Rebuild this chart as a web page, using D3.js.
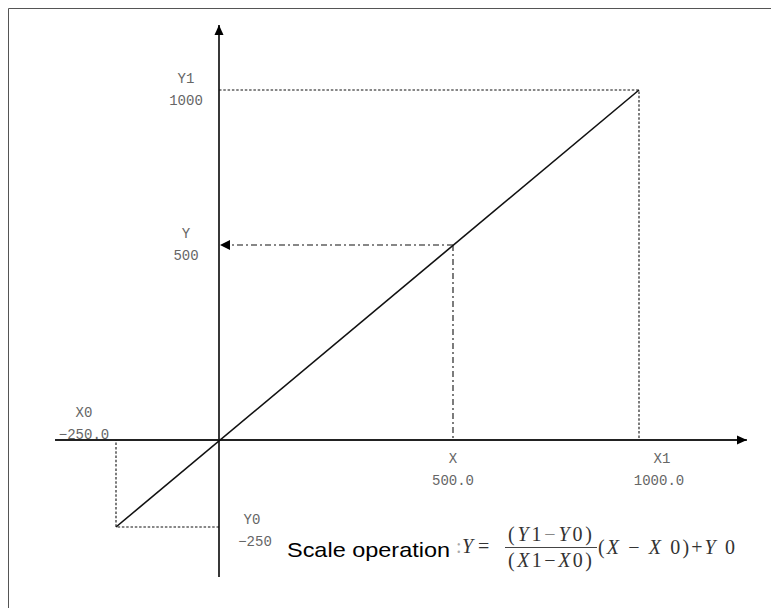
<!DOCTYPE html>
<html>
<head>
<meta charset="utf-8">
<script src="https://cdn.jsdelivr.net/npm/d3@7"></script>
<style>
  html, body { margin: 0; padding: 0; background: #fff; }
  svg { display: block; }
</style>
</head>
<body>
<svg id="chart" width="771" height="608"></svg>
<script>
// ---- data ----
const breakpoints = [-250, 0, 500, 1000];           // schematic (non-uniform) scale breakpoints
const xAxisExtent = [-398, 1290];
const yAxisExtent = [-394, 1210];
const transferLine = [[-250, -250], [1000, 1000]];   // Y = f(X)
const rangeMarks = [{x: -250, y: -250}, {x: 1000, y: 1000}];
const sampleMark = {x: 500, y: 500};
const xTickNames = ["X0", "X", "X1"];
const xTickValues = [-250, 500, 1000];
const xTickLabels = ["\u2212250.0", "500.0", "1000.0"];
const yTickNames = ["Y0", "Y", "Y1"];
const yTickValues = [-250, 500, 1000];
const yTickLabels = ["\u2212250", "500", "1000"];
const captionText = "Scale operation";

// ---- scales ----
const x = d3.scaleLinear().domain(breakpoints).range([116, 219, 453, 639]);
const y = d3.scaleLinear().domain(breakpoints).range([527, 440, 245, 90]);

const svg = d3.select("#chart");

// frame
svg.append("path")
  .attr("d", "M8.5,620 V8.5 H790")
  .attr("fill", "none").attr("stroke", "#555").attr("stroke-width", 1);

// arrowheads
const defs = svg.append("defs");
defs.append("marker").attr("id", "arr").attr("viewBox", "0 0 10 10")
  .attr("refX", 10).attr("refY", 5).attr("markerWidth", 10).attr("markerHeight", 10)
  .attr("markerUnits", "userSpaceOnUse").attr("orient", "auto")
  .append("path").attr("d", "M0,0.5 L10,5 L0,9.5 Z").attr("fill", "#000");

const axisCol = "#222";
// x axis
svg.append("line")
  .attr("x1", x(xAxisExtent[0])).attr("x2", x(xAxisExtent[1]))
  .attr("y1", y(0)).attr("y2", y(0))
  .attr("stroke", axisCol).attr("stroke-width", 1.8).attr("marker-end", "url(#arr)");
// y axis
svg.append("line")
  .attr("x1", x(0)).attr("x2", x(0))
  .attr("y1", y(yAxisExtent[0])).attr("y2", y(yAxisExtent[1]))
  .attr("stroke", axisCol).attr("stroke-width", 1.8).attr("marker-end", "url(#arr)");

// dotted guide lines to range corners
const dotted = "2.5,1.8";
rangeMarks.forEach(m => {
  svg.append("path")
    .attr("d", `M${x(0)},${y(m.y)} H${x(m.x)} V${y(0)}`)
    .attr("fill", "none").attr("stroke", "#111").attr("stroke-width", 1.1)
    .attr("stroke-dasharray", dotted);
});

// dash-dot guides for sample point
const dashDot = "6,3,2,3";
svg.append("line")
  .attr("x1", x(sampleMark.x)).attr("x2", x(sampleMark.x))
  .attr("y1", y(sampleMark.y)).attr("y2", y(0))
  .attr("stroke", "#111").attr("stroke-width", 1.1).attr("stroke-dasharray", dashDot);
svg.append("line")
  .attr("x1", x(sampleMark.x)).attr("x2", x(0) + 1)
  .attr("y1", y(sampleMark.y)).attr("y2", y(sampleMark.y))
  .attr("stroke", "#111").attr("stroke-width", 1.1).attr("stroke-dasharray", dashDot);
// left-pointing arrowhead at y axis
svg.append("path")
  .attr("d", `M${x(0) + 1},${y(sampleMark.y)} l10,-5 v10 Z`)
  .attr("fill", "#000");

// transfer line
svg.append("path")
  .datum(transferLine)
  .attr("d", d3.line().x(d => x(d[0])).y(d => y(d[1])))
  .attr("fill", "none").attr("stroke", "#111").attr("stroke-width", 1.6);

// labels
const labFont = "'Liberation Mono', 'DejaVu Sans Mono', monospace";
const labCol = "#666";
const labSize = 14;
function label2(cx, cy, a, b, dx2) {
  svg.append("text").attr("x", cx).attr("y", cy).attr("text-anchor", "middle")
    .attr("font-family", labFont).attr("font-size", labSize).attr("fill", labCol).text(a);
  svg.append("text").attr("x", cx + (dx2 || 0)).attr("y", cy + 22).attr("text-anchor", "middle")
    .attr("font-family", labFont).attr("font-size", labSize).attr("fill", labCol).text(b);
}
// x ticks
xTickValues.forEach((v, i) => {
  if (v < 0) {
    label2(x(v) - 32, y(0) - 23, xTickNames[i], xTickLabels[i]);
  } else if (i === 1) {
    label2(x(v), y(0) + 23, xTickNames[i], xTickLabels[i]);
  } else {
    label2(x(v) + 23, y(0) + 23, xTickNames[i], xTickLabels[i], -3);
  }
});
// y ticks
yTickValues.forEach((v, i) => {
  if (v < 0) {
    label2(x(0) + 33, y(v) - 3, yTickNames[i], yTickLabels[i], 3);
  } else {
    label2(x(0) - 33, y(v) - 7, yTickNames[i], yTickLabels[i]);
  }
});

// caption
svg.append("text").attr("x", 287).attr("y", 557)
  .attr("font-family", "'Liberation Sans', Arial, sans-serif").attr("font-size", 21)
  .attr("textLength", 163).attr("lengthAdjust", "spacingAndGlyphs")
  .attr("fill", "#000").text(captionText);

// formula
const f = svg.append("g").attr("font-family", "'Liberation Serif', 'Times New Roman', serif")
  .attr("font-size", 20).attr("fill", "#333");
f.append("text").attr("x", 456).attr("y", 553).attr("fill", "#aaa").text(":");
f.append("text").attr("x", 462).attr("y", 553).attr("font-style", "italic").text("Y");
f.append("text").attr("x", 478).attr("y", 553).attr("textLength", 14).text("=");
f.append("text").attr("x", 508).attr("y", 541).attr("textLength", 84).attr("lengthAdjust", "spacing")
  .html('(<tspan font-style="italic">Y</tspan>1<tspan fill="#888">\u2212</tspan><tspan font-style="italic">Y</tspan>0)');
f.append("line").attr("x1", 505).attr("x2", 597).attr("y1", 547.5).attr("y2", 547.5)
  .attr("stroke", "#444").attr("stroke-width", 1);
f.append("text").attr("x", 508).attr("y", 567).attr("textLength", 84).attr("lengthAdjust", "spacing")
  .html('(<tspan font-style="italic">X</tspan>1<tspan>\u2212</tspan><tspan font-style="italic">X</tspan>0)');
f.append("text").attr("x", 598).attr("y", 554).attr("textLength", 137).attr("lengthAdjust", "spacing")
  .html('(<tspan font-style="italic">X</tspan> \u2212 <tspan font-style="italic">X</tspan> 0)+<tspan font-style="italic">Y</tspan> 0');
</script>
</body>
</html>
